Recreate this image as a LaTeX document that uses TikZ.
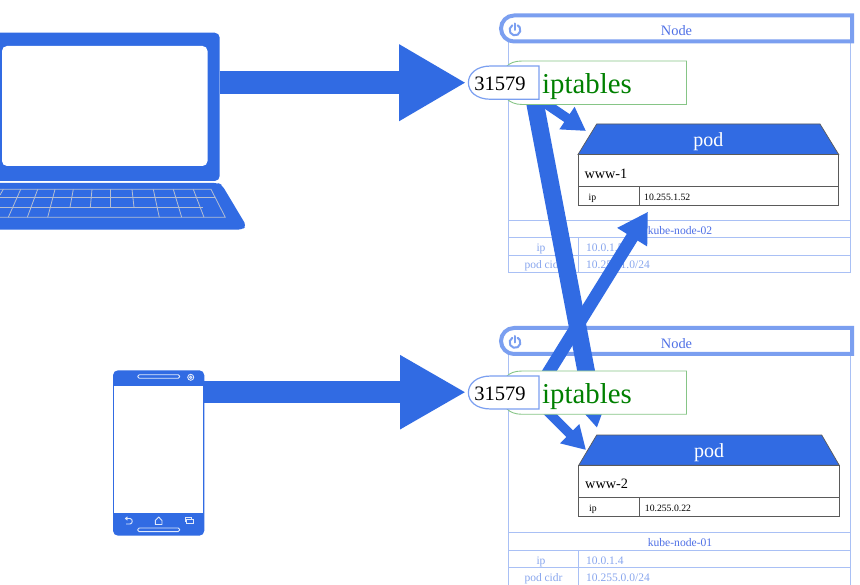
\documentclass[tikz,border=0pt]{standalone}
\usepackage{fontspec}
\setmainfont{Liberation Serif}
\usetikzlibrary{arrows.meta}
\definecolor{mainblue}{HTML}{316BE3}
\definecolor{hdrblue}{HTML}{7B9FF0}
\definecolor{rulblue}{HTML}{A9C0F5}
\definecolor{txtblue}{HTML}{4F70E6}
\definecolor{litblue}{HTML}{88A6EE}
\definecolor{boxgreen}{HTML}{86C586}
\definecolor{keyline}{HTML}{B4BED2}
\definecolor{podline}{HTML}{5A5A5A}
\newcommand{\fs}[1]{\fontsize{#1}{#1}\selectfont}
\tikzset{
  hdr/.style={draw=hdrblue,line width=4pt,fill=white,rounded corners=0pt},
  rul/.style={draw=rulblue,line width=0.9pt},
  lbl/.style={inner sep=0pt,anchor=base},
  lbll/.style={inner sep=0pt,anchor=base west},
  tname/.style={lbl,text=txtblue,font=\fs{11.6}},
  tkey/.style={lbl,text=litblue,font=\fs{11.5}},
  tval/.style={lbll,text=litblue,font=\fs{11.5}},
  titletxt/.style={lbl,text=txtblue,font=\fs{14.4}},
  ipttxt/.style={lbll,text=green!50!black,font=\fs{28.8}},
  porttxt/.style={lbl,text=black,font=\fs{20.5}},
  podtxt/.style={lbl,text=white,font=\fs{20}},
  wwwtxt/.style={lbll,text=black,font=\fs{14.3}},
  smalltxt/.style={lbll,text=black,font=\fs{9.7}},
  iptbox/.style={draw=boxgreen,line width=0.9pt,fill=white},
  portbox/.style={draw=hdrblue,line width=1.2pt,fill=white},
  podhead/.style={draw=podline,line width=0.7pt,fill=mainblue},
  podbody/.style={draw=podline,line width=1pt,fill=white},
  keyl/.style={draw=keyline,line width=0.8pt},
  phl/.style={draw=white!85!mainblue,line width=0.9pt},
  bigA/.style={draw=mainblue,line width=23.5pt,-{Triangle[length=67pt,width=72pt]}},
  bigB/.style={draw=mainblue,line width=22pt,-{Triangle[length=66pt,width=69.5pt]}},
  longA/.style={draw=mainblue,line width=17.5pt,-{Triangle[length=38pt,width=42pt]}},
  midA/.style={draw=mainblue,line width=12.7pt,-{Triangle[length=30pt,width=33pt]}},
  smA/.style={draw=mainblue,line width=9.5pt,-{Triangle[length=23pt,width=25.5pt]}},
}
\begin{document}
\begin{tikzpicture}[x=1pt,y=-1pt]
\useasboundingbox (0,0) rectangle (860,585);
\fill[white] (0,0) rectangle (860,585);

% ---------- laptop
\fill[mainblue,rounded corners=5pt] (-30,32.7) rectangle (219.7,181);
\fill[white,rounded corners=5pt] (2,46) rectangle (207.5,166);
\fill[mainblue,rounded corners=4pt] (-30,183) -- (218,183) -- (222,185) -- (246.5,226) -- (242,229.7) -- (-30,229.7) -- cycle;
\draw[keyl] (0,189.3) -- (211,189.3) -- (225.3,217.3) -- (0,217.3);
\draw[keyl] (0,197.3) -- (214.5,197.3);
\draw[keyl] (0,207.3) -- (203.3,207.3);
\draw[keyl] (3.3,189.3) -- (0,195);
\draw[keyl] (20.7,189.3) -- (8.3,217.3);
\draw[keyl] (37.7,189.3) -- (27.3,217.3);
\draw[keyl] (55,189.3) -- (47.7,217.3);
\draw[keyl] (73.3,189.3) -- (70,207.3);
\draw[keyl] (92,189.3) -- (90.3,207.3);
\draw[keyl] (110.3,189.3) -- (110.3,207.3);
\draw[keyl] (132,189.3) -- (134,207.3);
\draw[keyl] (153.3,189.3) -- (159.3,217.3);
\draw[keyl] (173.3,189.3) -- (181.7,217.3);
\draw[keyl] (193.3,189.3) -- (204,217.3);
\coordinate (laptopOut) at (219.5,82.7);

% ---------- phone
\fill[mainblue,rounded corners=5pt] (113,370.3) rectangle (204.3,535.7);
\fill[white] (114.4,386) rectangle (203,512.7);
\draw[phl,fill=mainblue,rounded corners=1.5pt] (137.7,374.8) rectangle (179.7,378.3);
\draw[phl,fill=mainblue,rounded corners=1.5pt] (137.7,528) rectangle (179.7,531.6);
\draw[phl] (190.7,377.3) circle (3pt);
\draw[phl] (190.7,377.3) circle (1.2pt);
\draw[phl] (125.5,518.5) -- (130,518.5) .. controls (133,518.5) and (133,524) .. (130,524) -- (126,524);
\draw[phl] (127.5,516.8) -- (125.5,518.5) -- (127.5,520.2);
\draw[phl,line join=round] (155.3,524.5) -- (155.3,520.5) -- (158.7,517) -- (162,520.5) -- (162,524.5) -- cycle;
\draw[phl] (185,517.5) -- (191,517.5) -- (191,518.8);
\draw[phl] (185,517.5) -- (185,521.5) -- (186.2,521.5);
\draw[phl] (186.5,519) rectangle (193.3,523.6);
\coordinate (phoneOut) at (204,392.2);

% ---------- Node 1 frame and table
\draw[rul] (508.5,42) -- (508.5,272.4) -- (850.5,272.4) -- (850.5,42);
\draw[rul] (508.5,220.5) -- (850.5,220.5);
\draw[rul] (508.5,237.3) -- (850.5,237.3);
\draw[rul] (508.5,255.3) -- (850.5,255.3);
\draw[rul] (578.3,237.3) -- (578.3,272.4);
\draw[hdr] (852,15.5) -- (514,15.5) arc[start angle=90,end angle=270,radius=13pt] -- (852,41.5) -- cycle;
\draw[hdrblue,line width=2pt,line cap=round] (512.3,25.3) arc[start angle=120,end angle=420,radius=5.4pt];
\draw[hdrblue,line width=2pt,line cap=round] (515,23.5) -- (515,30);
\node[titletxt] (title1) at (676.5,35.8) {Node};
\node[tname] (name1) at (680,234.5) {kube-node-02};
\node[tkey] (ipk1) at (541,251.8) {ip};
\node[tval] (ipv1) at (586,251.8) {10.0.1.5};
\node[tkey] (cidrk1) at (543.5,268.8) {pod cidr};
\node[tval] (cidrv1) at (586,268.8) {10.255.1.0/24};

% ---------- Node 2 frame and table
\draw[rul] (508.5,354) -- (508.5,585);
\draw[rul] (850.5,354) -- (850.5,585);
\draw[rul] (508.5,532.8) -- (850.5,532.8);
\draw[rul] (508.5,550.3) -- (850.5,550.3);
\draw[rul] (508.5,567.7) -- (850.5,567.7);
\draw[rul] (578.3,550.3) -- (578.3,585);
\draw[hdr] (852,328) -- (514,328) arc[start angle=90,end angle=270,radius=13pt] -- (852,354) -- cycle;
\draw[hdrblue,line width=2pt,line cap=round] (512.3,337.8) arc[start angle=120,end angle=420,radius=5.4pt];
\draw[hdrblue,line width=2pt,line cap=round] (515,336) -- (515,342.5);
\node[titletxt] (title2) at (676.5,348.5) {Node};
\node[tname] (name2) at (680,546.5) {kube-node-01};
\node[tkey] (ipk2) at (541,564.1) {ip};
\node[tval] (ipv2) at (586,564.1) {10.0.1.4};
\node[tkey] (cidrk2) at (543.5,581.8) {pod cidr};
\node[tval] (cidrv2) at (586,581.8) {10.255.0.0/24};

% ---------- anchors of the connectors
\coordinate (port1Tip) at (466,82.7);
\coordinate (port2Tip) at (466,392.2);
\coordinate (ipt1Out) at (535,103);
\coordinate (ipt1Pod) at (541,100.5);
\coordinate (pod1Tip) at (586,131);
\coordinate (ipt2Up) at (540,386);
\coordinate (pod1Ip) at (648,211.7);
\coordinate (ipt2In) at (597,428);
\coordinate (ipt2Pod) at (545,409);
\coordinate (pod2Tip) at (586,450);

% ---------- connectors
\draw[bigA] (laptopOut) -- (port1Tip);
\draw[bigB] (phoneOut) -- (port2Tip);
\draw[longA] (ipt1Out) -- (ipt2In);
\draw[midA] (ipt2Up) -- (pod1Ip);
\draw[smA] (ipt1Pod) -- (pod1Tip);
\draw[smA] (ipt2Pod) -- (pod2Tip);

% ---------- iptables boxes
\draw[iptbox] (686.5,61) -- (522,61) .. controls (515,61) and (510,63) .. (507,66) -- (507,99) .. controls (510,102) and (515,104.5) .. (522,104.5) -- (686.5,104.5) -- cycle;
\node[ipttxt] (ipt1) at (542,93.3) {iptables};
\draw[iptbox] (686.5,371) -- (522,371) .. controls (515,371) and (510,373) .. (507,376) -- (507,409) .. controls (510,412) and (515,414.3) .. (522,414.3) -- (686.5,414.3) -- cycle;
\node[ipttxt] (ipt2) at (542,403.1) {iptables};

% ---------- pod 1
\draw[podhead] (596.7,124) -- (820,124) -- (838.7,154.5) -- (578,154.5) -- cycle;
\draw[podbody] (578,155) rectangle (838.7,206);
\draw[podbody] (578,187) -- (838.7,187);
\draw[podbody] (639.3,187) -- (639.3,206);
\node[podtxt] (podt1) at (708.3,147) {pod};
\node[wwwtxt] (www1) at (584.3,178.8) {www-1};
\node[smalltxt] (ipl1) at (588.5,200.5) {ip};
\node[smalltxt] (ipa1) at (644,200.5) {10.255.1.52};

% ---------- pod 2
\draw[podhead] (596.7,435) -- (821.7,435) -- (839.3,465.3) -- (578.7,465.3) -- cycle;
\draw[podbody] (578.7,465.5) rectangle (839.3,516.6);
\draw[podbody] (578.7,497.4) -- (839.3,497.4);
\draw[podbody] (639.7,497.4) -- (639.7,516.6);
\node[podtxt] (podt2) at (709,457) {pod};
\node[wwwtxt] (www2) at (585,488.5) {www-2};
\node[smalltxt] (ipl2) at (589,511.5) {ip};
\node[smalltxt] (ipa2) at (644.7,511.5) {10.255.0.22};

% ---------- port bubbles
\draw[portbox] (539,66) -- (491,66) .. controls (476,66) and (468.4,74) .. (468.4,82.7) .. controls (468.4,91.4) and (476,99.3) .. (491,99.3) -- (539,99.3) -- cycle;
\node[porttxt] (port1) at (500,91) {31579};
\draw[portbox] (539,376) -- (491,376) .. controls (476,376) and (468.4,384) .. (468.4,392.7) .. controls (468.4,401.4) and (476,409) .. (491,409) -- (539,409) -- cycle;
\node[porttxt] (port2) at (500,401) {31579};
\end{tikzpicture}
\end{document}
